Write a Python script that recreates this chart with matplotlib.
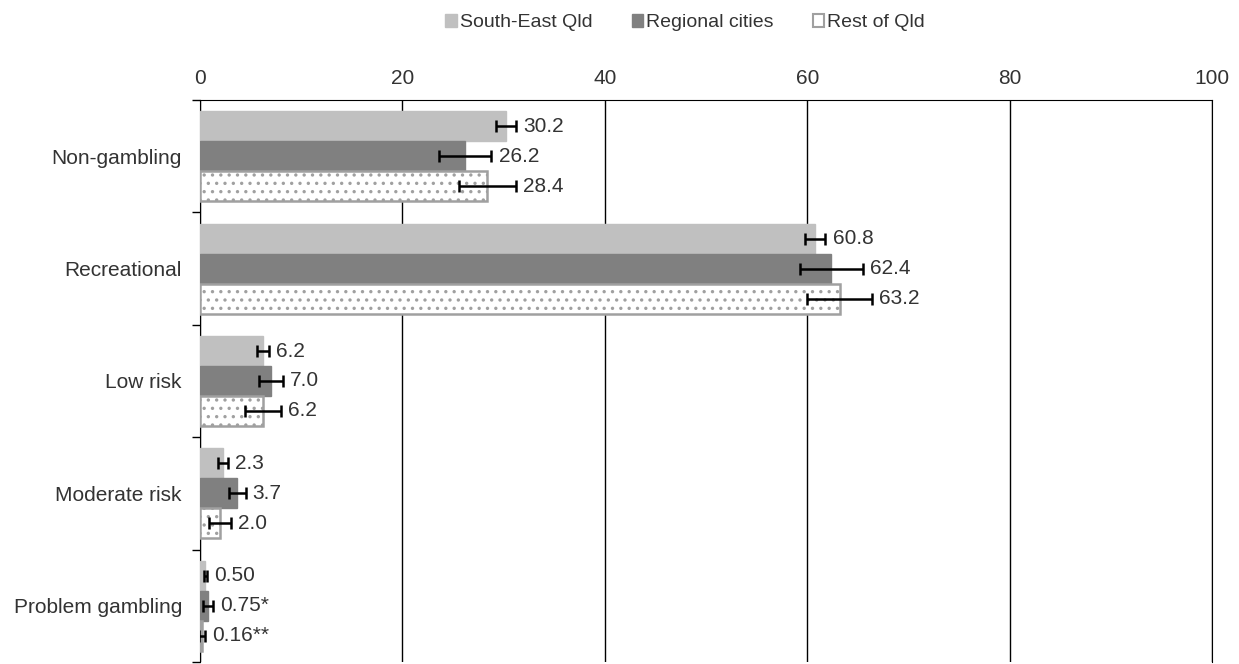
import matplotlib
matplotlib.use("Agg")
import matplotlib.pyplot as plt
from matplotlib.patches import Patch
import numpy as np

plt.rcParams['font.family'] = ['Liberation Sans', 'DejaVu Sans']
plt.rcParams['hatch.linewidth'] = 1.2

categories = ['Non-gambling', 'Recreational', 'Low risk', 'Moderate risk', 'Problem gambling']
series = ['South-East Qld', 'Regional cities', 'Rest of Qld']
se_qld = [30.2, 60.8, 6.2, 2.3, 0.50]
regional = [26.2, 62.4, 7.0, 3.7, 0.75]
rest_qld = [28.4, 63.2, 6.2, 2.0, 0.16]
se_err = [1.0, 1.0, 0.6, 0.5, 0.15]
regional_err = [2.6, 3.1, 1.2, 0.8, 0.5]
rest_err = [2.8, 3.2, 1.8, 1.1, 0.3]
se_labels = ['30.2', '60.8', '6.2', '2.3', '0.50']
regional_labels = ['26.2', '62.4', '7.0', '3.7', '0.75*']
rest_labels = ['28.4', '63.2', '6.2', '2.0', '0.16**']
xticks = [0, 20, 40, 60, 80, 100]

fig = plt.figure(figsize=(12.39, 6.64), dpi=100)
ax = fig.add_axes([200/1239, 2/664, 1012/1239, 562/664])

y = np.arange(len(categories))
h = 0.8/3
styles = [
    dict(color='#c0c0c0', edgecolor='#c0c0c0'),
    dict(color='#808080', edgecolor='#808080'),
    dict(facecolor='white', edgecolor='#a0a0a0', hatch='..', linewidth=1.8),
]
vals = [se_qld, regional, rest_qld]
errs = [se_err, regional_err, rest_err]
labs = [se_labels, regional_labels, rest_labels]

for i in range(3):
    pos = y - h + i*h
    ax.barh(pos, vals[i], height=h, zorder=3, **styles[i])
    ax.errorbar(vals[i], pos, xerr=errs[i], fmt='none', ecolor='black',
                elinewidth=1.8, capsize=4.5, capthick=1.8, zorder=4)
    for v, e, p, t in zip(vals[i], errs[i], pos, labs[i]):
        ax.text(v + e + 0.7, p, t, va='center', ha='left', fontsize=15, color='#333333', zorder=5)

ax.set_xlim(0, 100)
ax.set_ylim(len(categories) - 0.5, -0.5)
ax.xaxis.tick_top()
ax.set_xticks(xticks)
ax.tick_params(axis='x', length=0, labelsize=15, pad=9, colors='#333333')
ax.set_yticks(y)
ax.set_yticklabels(categories)
ax.set_yticks(np.arange(-0.5, len(categories), 1), minor=True)
ax.tick_params(axis='y', which='major', length=0, labelsize=15, pad=13, colors='#333333')
ax.tick_params(axis='y', which='minor', length=6, width=1, color='black', direction='out')
ax.grid(axis='x', color='black', linewidth=1, zorder=0)
ax.spines['bottom'].set_visible(False)
for s in ['top', 'left', 'right']:
    ax.spines[s].set_color('black')

handles = [Patch(**styles[0]), Patch(**styles[1]),
           Patch(facecolor='white', edgecolor='#a0a0a0', linewidth=1.5)]
fig.legend(handles, series, loc='upper center', bbox_to_anchor=(0.553, 1.005), ncol=3,
           frameon=False, fontsize=14, handlelength=0.6, handleheight=0.6,
           handletextpad=0.15, columnspacing=2.0, labelcolor='#333333')

fig.savefig('out.png', dpi=100)
